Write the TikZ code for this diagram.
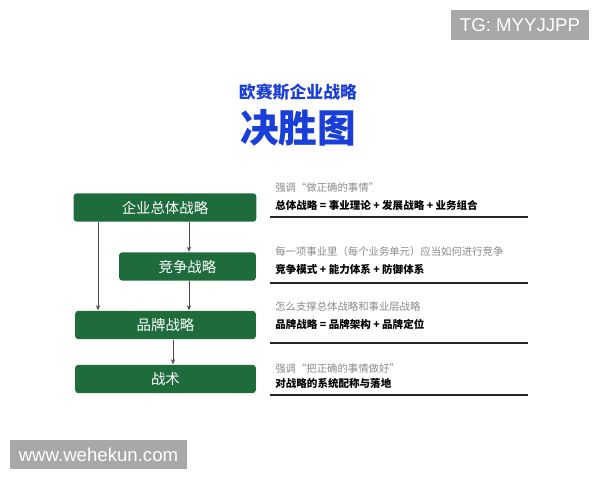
\documentclass[tikz,border=0pt]{standalone}
\usepackage{fontspec}
\usetikzlibrary{arrows.meta}
\setsansfont{Liberation Sans}
\newfontfamily\cjk{Noto Sans CJK SC}
\definecolor{boxgreen}{HTML}{1E6B3C}
\definecolor{titleblue}{HTML}{1A3FD9}
\definecolor{notegray}{HTML}{8A8A8A}
\definecolor{markgray}{HTML}{A8A8A8}
\begin{document}
\begin{tikzpicture}[x=0.02cm,y=-0.02cm,
    stratbox/.style={draw=none,fill=boxgreen,rounded corners=2pt,text=white,
      font=\cjk\fontsize{8.2}{9}\selectfont,minimum height=0.57cm,inner sep=0pt},
    note/.style={anchor=west,inner sep=0pt,text=notegray,font=\cjk\fontsize{5.9}{7}\selectfont},
    formula/.style={anchor=west,inner sep=0pt,text=black,font=\cjk\bfseries\fontsize{6}{7}\selectfont},
    rule/.style={line width=0.8pt,black!85},
    flow/.style={-{Stealth[length=3pt,width=2.4pt]},black!70,line width=0.5pt},
    wmark/.style={fill=markgray,text=white,font=\sffamily\fontsize{10.6}{12}\selectfont,inner sep=0pt}]
  \useasboundingbox (0,0) rectangle (600,480);
  % Titel
  \node[text=titleblue,font=\cjk\bfseries\fontsize{9.6}{11}\selectfont] (sub) at (298,92) {欧赛斯企业战略};
  \node[text=titleblue,font=\cjk\bfseries\fontsize{22}{24}\selectfont] (main) at (298,128) {决胜图};
  % Kästen
  \node[stratbox,minimum width=3.66cm] (corp)  at (165,207.5) {企业总体战略};
  \node[stratbox,minimum width=2.74cm] (comp)  at (187.5,266.5) {竞争战略};
  \node[stratbox,minimum width=3.62cm] (brand) at (165.5,325) {品牌战略};
  \node[stratbox,minimum width=3.62cm] (tact)  at (165.5,379) {战术};
  % Pfeile
  \coordinate (lx) at (98,0);
  \coordinate (mx) at (189,0);
  \coordinate (bx) at (173,0);
  \draw[flow] (corp.south -| lx) -- (brand.north -| lx);
  \draw[flow] (corp.south -| mx) -- (comp.north -| mx);
  \draw[flow] (comp.south -| mx) -- (brand.north -| mx);
  \draw[flow] (brand.south -| bx) -- (tact.north -| bx);
  % Erläuterungen
  \node[note] (n1) at (275,188) {强调“做正确的事情”};
  \node[formula] (f1) at (275,205) {总体战略 = 事业理论 + 发展战略 + 业务组合};
  \draw[rule] (270,217) -- (528,217);
  \node[note] (n2) at (275,252) {每一项事业里（每个业务单元）应当如何进行竞争};
  \node[formula] (f2) at (275,269) {竞争模式 + 能力体系 + 防御体系};
  \draw[rule] (270,283) -- (528,283);
  \node[note] (n3) at (275,307) {怎么支撑总体战略和事业层战略};
  \node[formula] (f3) at (275,324) {品牌战略 = 品牌架构 + 品牌定位};
  \draw[rule] (270,343) -- (528,343);
  \node[note] (n4) at (275,369) {强调“把正确的事情做好”};
  \node[formula] (f4) at (275,383) {对战略的系统配称与落地};
  \draw[rule] (270,395) -- (528,395);
  % Wasserzeichen
  \node[wmark,minimum width=2.76cm,minimum height=0.6cm] (tg) at (520,25) {TG: MYYJJPP};
  \node[wmark,minimum width=3.54cm,minimum height=0.58cm] (web) at (98.5,454.5) {www.wehekun.com};
\end{tikzpicture}
\end{document}
